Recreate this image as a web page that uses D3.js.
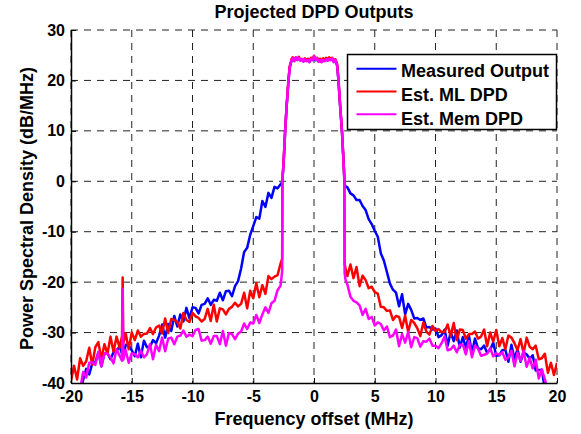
<!DOCTYPE html>
<html>
<head>
<meta charset="utf-8">
<script src="https://cdn.jsdelivr.net/npm/d3@7"></script>
<style>
body { margin: 0; background: #fff; }
text { font-family: "Liberation Sans", Arial, sans-serif; font-weight: bold; }
</style>
</head>
<body>
<svg id="chart" width="581" height="434"></svg>
<script>
// frequency offset (MHz): left wing, band edge, in-band, band edge, right wing
const freq = [
  -20, -19.75, -19.5, -19.25, -19, -18.75, -18.5, -18.25, -18, -17.75,
  -17.5, -17.25, -17, -16.75, -16.5, -16.25, -16, -15.8, -15.75, -15.7,
  -15.5, -15.25, -15, -14.75, -14.5, -14.25, -14, -13.75, -13.5, -13.25,
  -13, -12.75, -12.5, -12.25, -12, -11.75, -11.5, -11.25, -11, -10.75,
  -10.5, -10.25, -10, -9.75, -9.5, -9.25, -9, -8.75, -8.5, -8.25,
  -8, -7.75, -7.5, -7.25, -7, -6.75, -6.5, -6.25, -6, -5.75,
  -5.5, -5.25, -5, -4.75, -4.5, -4.25, -4, -3.75, -3.5, -3.25,
  -3, -2.75, -2.62,
  -2.6, -2.5, -2.375, -2.25, -2.1, -2, -1.85,
  -1.75, -1.625, -1.5, -1.375, -1.25, -1.125, -1, -0.875, -0.75, -0.625,
  -0.5, -0.375, -0.25, -0.125, 0, 0.125, 0.25, 0.375, 0.5, 0.625,
  0.75, 0.875, 1, 1.125, 1.25, 1.375, 1.5, 1.625, 1.75,
  1.9, 2, 2.15, 2.3, 2.45, 2.5, 2.52, 2.6,
  2.75, 3, 3.25, 3.5, 3.75, 4, 4.25, 4.5, 4.75, 5,
  5.25, 5.5, 5.75, 6, 6.25, 6.5, 6.75, 7, 7.25, 7.5,
  7.75, 8, 8.25, 8.5, 8.75, 9, 9.25, 9.5, 9.75, 10,
  10.25, 10.5, 10.75, 11, 11.25, 11.5, 11.75, 12, 12.25, 12.5,
  12.75, 13, 13.25, 13.5, 13.75, 14, 14.25, 14.5, 14.75, 15,
  15.25, 15.5, 15.75, 16, 16.25, 16.5, 16.75, 17, 17.25, 17.5,
  17.75, 18, 18.25, 18.5, 18.75, 19, 19.25, 19.5, 19.75, 20
];

// Measured Output (dB/MHz)
const measured = [
  -44.1, -44.6, -41.2, -42.1, -39.4, -37.2, -38.3, -36.1, -35.9, -33.9,
  -36.7, -34.2, -34.1, -35.3, -33.9, -33.7, -32.7, -34.2, -33.5, -35.1,
  -32.4, -32.6, -33.5, -34.7, -32.2, -34.9, -31.6, -32.9, -32.8, -31.5,
  -32.1, -30.6, -28.4, -31.0, -28.3, -29.7, -26.7, -28.8, -26.4, -27.8,
  -25.1, -27.2, -25.0, -25.1, -26.2, -24.5, -24.3, -23.2, -24.5, -23.5,
  -23.7, -22.1, -23.6, -21.8, -21.7, -22.8, -20.8, -19.8, -17.3, -14.0,
  -13.2, -10.6, -8.9, -7.1, -7.4, -3.9, -5.1, -2.3, -3.3, -1.1,
  -1.4, -0.6, -0.2,
  0.2, 3.6, 9.8, 14.9, 19.9, 22.5, 23.9,
  24.3, 23.9, 24.5, 24.1, 24.4, 24.0, 24.2, 23.8, 24.1, 23.9,
  24.0, 23.7, 24.2, 24.1, 24.7, 24.0, 24.3, 23.8, 23.9, 23.7,
  24.0, 23.9, 24.1, 24.0, 24.2, 24.1, 24.3, 23.7, 24.0,
  23.0, 20.3, 14.9, 9.9, 2.9, 0.1, -0.6, -1.0,
  -1.2, -2.4, -2.8, -3.7, -3.7, -4.9, -5.7, -7.5, -8.5, -9.8,
  -11.0, -14.3, -15.7, -18.0, -20.3, -21.5, -22.1, -24.8, -22.4, -26.4,
  -24.3, -25.5, -27.2, -27.1, -27.5, -27.2, -29.0, -28.9, -29.4, -29.2,
  -30.9, -30.5, -29.4, -32.6, -29.9, -31.7, -29.6, -33.0, -30.9, -33.0,
  -30.6, -34.0, -31.2, -33.1, -33.3, -32.6, -34.0, -33.4, -32.0, -34.6,
  -34.5, -33.5, -33.4, -35.8, -32.4, -35.2, -33.3, -35.8, -34.0, -34.3,
  -35.2, -34.5, -37.5, -37.4, -37.4, -41.2, -40.5, -42.8, -42.4, -45.9
];

// Est. ML DPD
const mlDpd = [
  -39.6, -36.6, -39.3, -35.1, -36.6, -35.7, -33.0, -36.4, -32.9, -31.9,
  -35.3, -32.3, -34.2, -30.8, -33.8, -30.8, -33.0, -30.7, -19.1, -32.1,
  -30.2, -33.3, -30.0, -31.5, -29.6, -30.8, -30.3, -30.2, -29.1, -30.3,
  -29.0, -28.6, -30.2, -27.2, -30.1, -27.3, -27.5, -27.9, -29.2, -26.1,
  -27.5, -27.9, -26.1, -26.8, -27.1, -27.8, -27.3, -25.3, -27.7, -24.5,
  -27.8, -25.2, -25.4, -26.4, -25.3, -24.9, -24.1, -24.8, -24.3, -22.1,
  -25.2, -21.7, -23.2, -20.2, -23.0, -20.6, -22.3, -18.8, -19.4, -18.9,
  -18.6, -16.3, -15.4,
  0.4, 3.9, 10.1, 15.1, 20.2, 22.8, 24.2,
  24.6, 24.0, 24.5, 24.2, 24.7, 24.0, 24.2, 23.9, 24.4, 24.0,
  24.3, 23.9, 24.5, 24.2, 24.9, 24.2, 24.5, 24.0, 24.3, 23.8,
  24.4, 24.0, 24.5, 24.1, 24.6, 24.2, 24.5, 23.9, 24.2,
  23.3, 20.7, 15.2, 10.1, 3.2, 0.3, -16.4, -17.3,
  -18.8, -16.5, -19.2, -17.0, -20.8, -18.7, -19.6, -21.2, -20.9, -22.0,
  -22.3, -24.9, -25.0, -25.7, -25.6, -27.5, -26.7, -26.9, -29.1, -26.6,
  -29.9, -27.5, -28.1, -29.1, -30.7, -28.0, -29.8, -30.4, -28.7, -29.7,
  -29.3, -29.9, -29.9, -28.4, -30.7, -28.1, -31.5, -29.4, -29.5, -31.2,
  -30.3, -30.3, -29.8, -31.2, -30.8, -29.4, -32.7, -30.0, -31.8, -29.5,
  -32.7, -31.1, -33.3, -30.6, -31.0, -32.1, -33.5, -31.3, -34.1, -31.0,
  -32.8, -33.3, -32.6, -35.3, -35.1, -34.2, -38.0, -36.0, -38.4, -36.0
];

// Est. Mem DPD
const memDpd = [
  -44.7, -45.5, -42.4, -41.3, -37.8, -38.9, -36.0, -35.9, -36.4, -33.8,
  -36.7, -34.1, -34.2, -34.9, -36.1, -33.3, -34.6, -35.6, -21.3, -35.4,
  -33.5, -36.0, -34.1, -34.3, -34.9, -33.6, -34.9, -34.3, -32.3, -35.3,
  -32.4, -33.7, -31.0, -33.7, -31.2, -31.0, -32.3, -30.8, -30.6, -29.6,
  -30.8, -30.4, -30.7, -29.5, -29.3, -31.6, -31.5, -30.8, -32.2, -30.7,
  -30.7, -32.3, -29.7, -32.6, -30.1, -30.3, -31.3, -30.2, -29.8, -28.2,
  -29.3, -28.0, -28.2, -26.5, -28.1, -26.4, -25.0, -26.1, -24.2, -23.7,
  -21.6, -20.7, -17.8,
  0.3, 3.8, 10.0, 15.0, 20.0, 22.6, 24.0,
  24.4, 23.8, 24.6, 24.0, 24.5, 23.9, 24.3, 23.7, 24.2, 23.8,
  24.1, 23.6, 24.3, 24.0, 24.8, 24.1, 24.4, 23.7, 24.0, 23.6,
  24.1, 23.8, 24.2, 23.9, 24.3, 24.0, 24.4, 23.6, 24.1,
  23.1, 20.5, 15.0, 10.0, 3.0, 0.2, -18.2, -19.6,
  -20.5, -22.9, -23.7, -24.0, -24.6, -26.5, -25.3, -27.3, -26.9, -28.6,
  -28.0, -28.3, -29.6, -28.8, -30.9, -30.6, -29.4, -32.7, -30.3, -32.0,
  -29.9, -32.9, -30.9, -31.1, -32.8, -31.7, -31.8, -31.2, -32.6, -32.6,
  -33.1, -32.1, -30.8, -33.5, -33.3, -32.6, -33.9, -32.4, -32.4, -34.3,
  -31.7, -34.9, -32.6, -33.2, -34.6, -34.4, -34.2, -33.1, -34.7, -34.1,
  -34.4, -33.9, -35.4, -34.9, -33.6, -36.7, -34.0, -35.6, -33.6, -36.8,
  -35.0, -37.1, -35.4, -39.1, -37.3, -39.3, -41.3, -41.0, -44.4, -44.0
];

const xTicks = [-20, -15, -10, -5, 0, 5, 10, 15, 20];
const yTicks = [-40, -30, -20, -10, 0, 10, 20, 30];
const seriesNames = ["Measured Output", "Est. ML DPD", "Est. Mem DPD"];
const seriesColors = ["#0000ff", "#ff0000", "#ff00ff"];
const seriesData = [measured, mlDpd, memDpd];

seriesData.forEach((s, i) => {
  if (s.length !== freq.length) throw new Error(seriesNames[i] + " length " + s.length + " vs " + freq.length);
});

const svg = d3.select("#chart");
const margin = { top: 30, right: 24, bottom: 51, left: 71 };
const width = +svg.attr("width") - margin.left - margin.right;
const height = +svg.attr("height") - margin.top - margin.bottom;

const g = svg.append("g").attr("transform", `translate(${margin.left},${margin.top})`);

const x = d3.scaleLinear().domain([-20, 20]).range([0, width]);
const y = d3.scaleLinear().domain([-40, 30]).range([height, 0]);

// dashed grid (top and right edges are grid lines too, no box)
g.append("g").selectAll("line")
  .data(xTicks)
  .enter().append("line")
  .attr("x1", d => x(d)).attr("x2", d => x(d))
  .attr("y1", 0).attr("y2", height)
  .attr("stroke", "#222")
  .attr("stroke-dasharray", "7,6");

g.append("g").selectAll("line")
  .data(yTicks.slice(1))
  .enter().append("line")
  .attr("x1", 0).attr("x2", width)
  .attr("y1", d => y(d)).attr("y2", d => y(d))
  .attr("stroke", "#222")
  .attr("stroke-dasharray", "7,6");

// curves
g.append("clipPath").attr("id", "plotclip")
  .append("rect").attr("width", width).attr("height", height);

const line = d3.line()
  .x(d => x(d[0]))
  .y(d => y(d[1]));

g.append("g").attr("clip-path", "url(#plotclip)")
  .selectAll("path")
  .data(seriesData)
  .enter().append("path")
  .attr("d", d => line(d3.zip(freq, d)))
  .attr("fill", "none")
  .attr("stroke", (d, i) => seriesColors[i])
  .attr("stroke-width", 2.5)
  .attr("stroke-linejoin", "round");

// axes, ticks pointing inward
const xAxis = d3.axisBottom(x).tickValues(xTicks).tickFormat(d => String(d))
  .tickSizeInner(-5).tickSizeOuter(0).tickPadding(8);
const xg = g.append("g").attr("transform", `translate(0,${height})`).call(xAxis);

const yAxis = d3.axisLeft(y).tickValues(yTicks).tickFormat(d => String(d))
  .tickSizeInner(-5).tickSizeOuter(0).tickPadding(6);
const yg = g.append("g").call(yAxis);

[xg, yg].forEach(a => {
  a.attr("font-size", 16).attr("font-family", null);
  a.select(".domain").attr("stroke", "#000").attr("stroke-width", 1.5);
  a.selectAll(".tick line").attr("stroke", "#000");
  a.selectAll(".tick text").attr("fill", "#000");
});

// titles
svg.append("text")
  .attr("x", margin.left + width / 2)
  .attr("y", 18)
  .attr("text-anchor", "middle")
  .attr("font-size", 18)
  .text("Projected DPD Outputs");

svg.append("text")
  .attr("x", margin.left + width / 2)
  .attr("y", 424.5)
  .attr("text-anchor", "middle")
  .attr("font-size", 18)
  .text("Frequency offset (MHz)");

svg.append("text")
  .attr("transform", `translate(33,${margin.top + height / 2 + 2}) rotate(-90)`)
  .attr("text-anchor", "middle")
  .attr("font-size", 18)
  .text("Power Spectral Density (dB/MHz)");

// legend
const legend = svg.append("g").attr("transform", "translate(347.5,54.5)");
legend.append("rect")
  .attr("width", 209).attr("height", 75)
  .attr("fill", "#fff").attr("stroke", "#000").attr("stroke-width", 1.5);

const legendRow = legend.selectAll(".legend-row")
  .data(seriesNames)
  .enter().append("g")
  .attr("class", "legend-row");

legendRow.append("line")
  .attr("x1", 9).attr("x2", 49)
  .attr("y1", (d, i) => 14.2 + 22.8 * i)
  .attr("y2", (d, i) => 14.2 + 22.8 * i)
  .attr("stroke", (d, i) => seriesColors[i])
  .attr("stroke-width", 2);

legendRow.append("text")
  .attr("x", 53.5)
  .attr("y", (d, i) => 22 + 24 * i)
  .attr("font-size", 18)
  .text(d => d);
</script>
</body>
</html>
